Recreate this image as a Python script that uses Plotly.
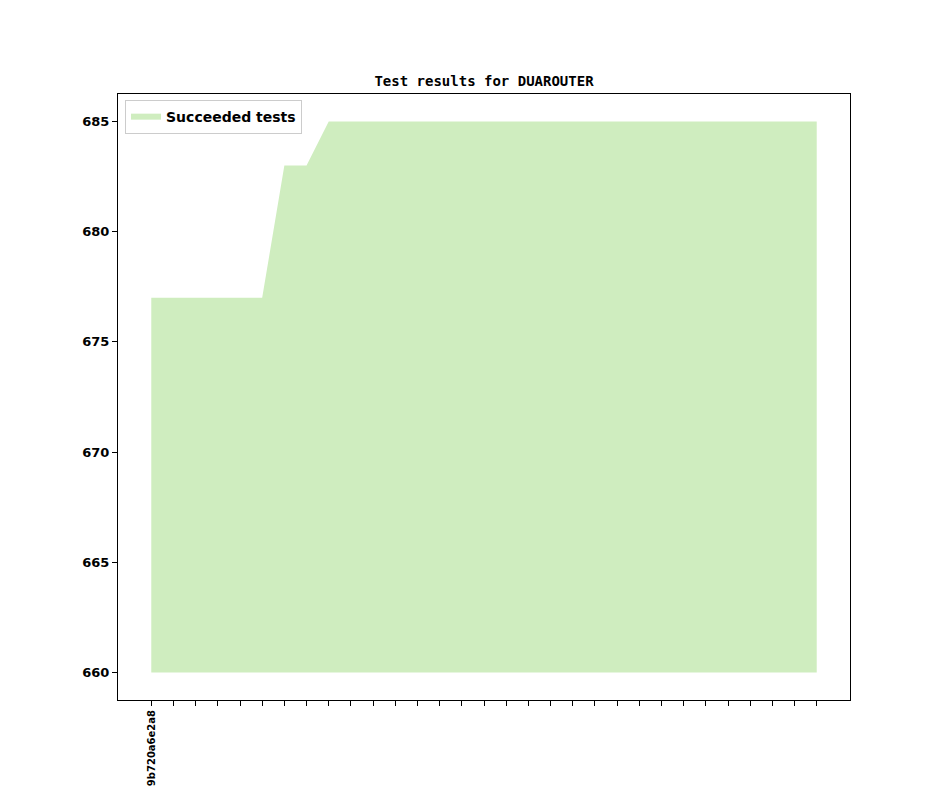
import plotly.graph_objects as go

# Commit revisions (only the first label is shown on the axis)
revisions = ["9b720a6e2a8"] + [""] * 30

# Number of succeeded tests per revision
succeeded = [677, 677, 677, 677, 677, 677, 683, 683, 685, 685,
             685, 685, 685, 685, 685, 685, 685, 685, 685, 685,
             685, 685, 685, 685, 685, 685, 685, 685, 685, 685, 685]

baseline = 660
x = list(range(len(succeeded)))

fig = go.Figure()

# invisible baseline so the fill starts at 660
fig.add_trace(go.Scatter(x=x, y=[baseline] * len(x), mode='lines',
                         line=dict(width=0), showlegend=False, hoverinfo='skip'))
fig.add_trace(go.Scatter(x=x, y=succeeded, mode='none', fill='tonexty',
                         fillcolor='rgb(207,237,191)', name='<b>Succeeded tests</b>'))

# page body has an 8px margin, so shift everything up/left by 8
fig.update_layout(
    width=944, height=787,
    margin=dict(l=110, r=102, t=86, b=95, autoexpand=False),
    paper_bgcolor='white', plot_bgcolor='white',
    font=dict(family='DejaVu Sans', color='black'),
    title=dict(text='<b>Test results for DUAROUTER</b>', x=0.5, xref='paper',
               y=1 - 73 / 787, yref='container', yanchor='middle',
               font=dict(family='DejaVu Sans Mono', size=14)),
    legend=dict(x=0.0096, y=0.99, xanchor='left', yanchor='top',
                bgcolor='rgba(255,255,255,0.8)', bordercolor='#cccccc', borderwidth=1,
                font=dict(size=14, family='DejaVu Sans'), itemwidth=30,
                tracegroupgap=0),
    showlegend=True,
)

fig.update_xaxes(range=[-1.5, 31.5], tickmode='array', tickvals=x,
                 ticktext=['<b>%s</b>' % r if r else '' for r in revisions],
                 tickangle=-90, ticks='outside', ticklen=5, tickcolor='black',
                 tickfont=dict(size=10, family='DejaVu Sans'), automargin=False,
                 showline=True, linecolor='black', linewidth=1, mirror=True,
                 showgrid=False, zeroline=False)
fig.update_yaxes(range=[658.75, 686.25], tickmode='array',
                 tickvals=[660, 665, 670, 675, 680, 685],
                 ticktext=['<b>%d</b>' % v for v in [660, 665, 670, 675, 680, 685]],
                 ticks='outside', ticklen=5, tickcolor='black',
                 tickfont=dict(size=13, family='DejaVu Sans'), automargin=False,
                 showline=True, linecolor='black', linewidth=1, mirror=True,
                 showgrid=False, zeroline=False)

fig.write_html("out.html")
